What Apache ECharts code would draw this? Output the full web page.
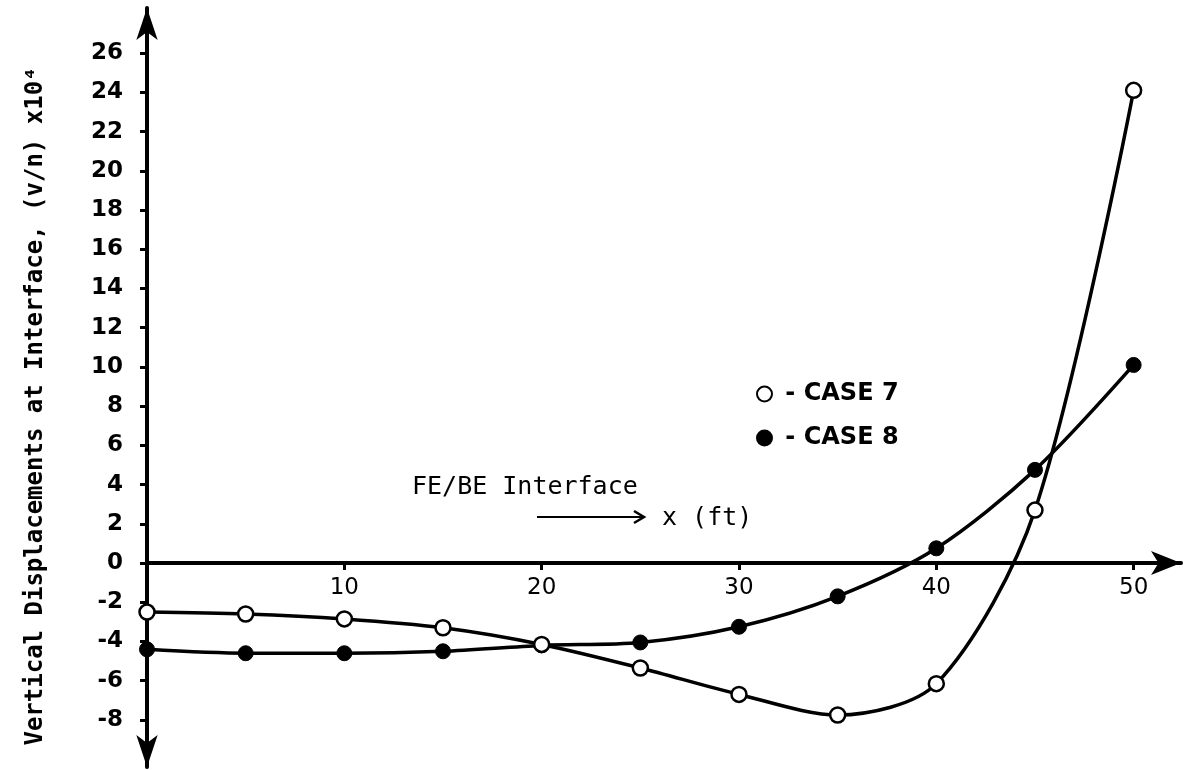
<!DOCTYPE html>
<html>
<head>
<meta charset="utf-8">
<script src="https://cdn.jsdelivr.net/npm/echarts@6/dist/echarts.min.js"></script>
<style>
    html, body { margin: 0; padding: 0; background: #fff; }
    #mainChart { width: 1183px; height: 770px; }
</style>
</head>
<body>
<div id="mainChart"></div>
<script>
// x positions (ft)
var xValues = [0, 5, 10, 15, 20, 25, 30, 35, 40, 45, 50];
// vertical displacements (v/n) x10^4
var case7 = [-2.5, -2.6, -2.85, -3.3, -4.15, -5.35, -6.7, -7.75, -6.15, 2.7, 24.1];
var case8 = [-4.4, -4.6, -4.6, -4.5, -4.2, -4.05, -3.25, -1.7, 0.75, 4.75, 10.1];
var seriesNames = ["CASE 7", "CASE 8"];
var xTicks = [10, 20, 30, 40, 50];
var yTicks = [-8, -6, -4, -2, 0, 2, 4, 6, 8, 10, 12, 14, 16, 18, 20, 22, 24, 26];

function pairs(ys) {
    var out = [];
    for (var i = 0; i < xValues.length; i++) {
        out.push([xValues[i], ys[i]]);
    }
    return out;
}

mainChartShow();

function mainChartShow() {
    var n = echarts.init(document.getElementById("mainChart"));
    var gridTop = 8, gridBottom = 3;
    var yMin = -10.4, yMax = 28.3;
    // x axis sits on y = 0, so shift it up from the bottom of the grid
    var plotH = 770 - gridTop - gridBottom;
    var zeroOffset = -(0 - yMin) * plotH / (yMax - yMin);

    n.setOption({
        backgroundColor: "#fff",
        animation: false,
        grid: { left: 147, right: 2, top: gridTop, bottom: gridBottom },
        legend: {
            orient: "vertical", left: 751, top: 377, itemGap: 20,
            itemWidth: 15, itemHeight: 15, icon: "circle",
            data: seriesNames,
            formatter: function (name) { return " - " + name; },
            textStyle: { color: "#000", fontSize: 24, fontWeight: "bold", fontFamily: "DejaVu Sans" }
        },
        xAxis: {
            type: "value", min: 0, max: 52.4,
            onZero: false,
            offset: zeroOffset,
            splitLine: { show: false },
            axisLine: {
                onZero: false, symbol: ["none", "arrow"], symbolSize: [18, 30],
                lineStyle: { color: "#000", width: 4 }
            },
            axisTick: { show: true, length: 7, customValues: xTicks, lineStyle: { color: "#000", width: 3 } },
            axisLabel: {
                margin: 14, customValues: xTicks,
                color: "#000", fontSize: 23, fontFamily: "DejaVu Sans"
            }
        },
        yAxis: {
            type: "value", min: yMin, max: yMax,
            splitLine: { show: false },
            axisLine: {
                onZero: false, symbol: ["arrow", "arrow"], symbolSize: [16, 32],
                lineStyle: { color: "#000", width: 4 }
            },
            axisTick: { show: true, length: 7, customValues: yTicks, lineStyle: { color: "#000", width: 3 } },
            axisLabel: {
                margin: 24, customValues: yTicks,
                color: "#000", fontSize: 23, fontWeight: "bold", fontFamily: "DejaVu Sans"
            }
        },
        graphic: [
            {
                type: "text", x: 36, y: 406, rotation: Math.PI / 2,
                style: {
                    text: "Vertical Displacements at Interface, (v/n) x10\u2074",
                    fill: "#000", font: "bold 24px 'DejaVu Sans Mono'",
                    align: "center", verticalAlign: "middle"
                }
            },
            {
                type: "text", x: 412, y: 487,
                style: {
                    text: "FE/BE Interface", fill: "#000",
                    font: "25px 'DejaVu Sans Mono'", align: "left", verticalAlign: "middle"
                }
            },
            {
                type: "line",
                shape: { x1: 537, y1: 517, x2: 643, y2: 517 },
                style: { stroke: "#000", lineWidth: 2 }
            },
            {
                type: "polyline",
                shape: { points: [[634, 511], [644, 517], [634, 523]] },
                style: { stroke: "#000", lineWidth: 2.5, fill: null }
            },
            {
                type: "text", x: 662, y: 518,
                style: {
                    text: "x (ft)", fill: "#000",
                    font: "25px 'DejaVu Sans Mono'", align: "left", verticalAlign: "middle"
                }
            }
        ],
        series: [
            {
                name: seriesNames[0], type: "line", smooth: 0.3,
                data: pairs(case7), z: 3,
                symbol: "circle", symbolSize: 15,
                lineStyle: { color: "#000", width: 3.5 },
                itemStyle: { color: "#fff", borderColor: "#000", borderWidth: 2.5 }
            },
            {
                name: seriesNames[1], type: "line", smooth: 0.3,
                data: pairs(case8), z: 2,
                symbol: "circle", symbolSize: 15,
                lineStyle: { color: "#000", width: 3.5 },
                itemStyle: { color: "#000", borderColor: "#000", borderWidth: 1 }
            }
        ]
    });
}
</script>
</body>
</html>
